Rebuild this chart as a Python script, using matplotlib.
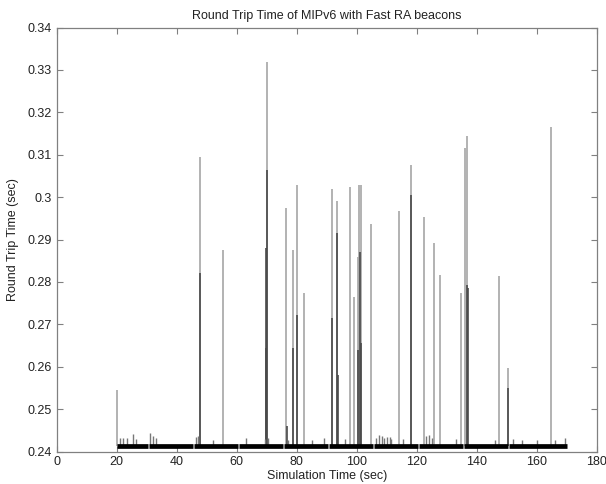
import numpy as np
import matplotlib
matplotlib.use("Agg")
import matplotlib.pyplot as plt

plt.rcParams['font.family'] = ['Liberation Sans', 'DejaVu Sans']

# baseline RTT level and the segments where data was recorded
base_rtt = 0.2412
seg_start = [20.0, 30.8, 45.8, 60.8, 75.8, 90.8, 105.8, 120.8, 135.8, 150.8]
seg_end = [30.3, 45.4, 60.4, 75.4, 90.4, 105.4, 120.4, 135.4, 150.4, 170.0]

# tall RTT spikes (time, peak)
spike_t = [20.0, 47.8, 55.5, 70.0, 76.4, 78.9, 80.1, 82.5, 91.7, 93.5, 97.8,
           99.2, 100.3, 100.9, 101.4, 104.8, 114.1, 118.0, 122.5, 125.7, 127.8,
           134.9, 136.1, 136.9, 147.5, 150.5, 164.7]
spike_rtt = [0.2545, 0.3095, 0.2875, 0.3319, 0.2974, 0.2875, 0.3029, 0.2773,
             0.3020, 0.2992, 0.3025, 0.2765, 0.2859, 0.3029, 0.3029, 0.2937,
             0.2967, 0.3076, 0.2952, 0.2891, 0.2816, 0.2775, 0.3117, 0.3145,
             0.2814, 0.2596, 0.3166]

# darker parts where several spikes overlap (time, peak)
dark_t = [47.8, 69.8, 70.0, 69.6, 76.6, 78.8, 80.0, 91.6, 93.4, 93.6, 100.3,
          101.1, 101.3, 118.0, 136.8, 137.0, 150.5]
dark_rtt = [0.2820, 0.2880, 0.3064, 0.2644, 0.2460, 0.2644, 0.2722, 0.2716,
            0.2916, 0.2580, 0.2640, 0.2871, 0.2655, 0.3005, 0.2793, 0.2785,
            0.2549]

# small bumps on the baseline (time, peak)
bump_t = [21, 22, 23.5, 25.3, 26.5, 31, 32, 33, 46.5, 47, 52, 63, 69.5, 70.5,
          77, 85, 89, 96, 106.5, 107.5, 108.3, 109, 110, 111, 111.5, 115.5,
          123, 124, 125, 133, 146, 152, 155, 160, 166, 169.5]
bump_rtt = [0.2433, 0.2432, 0.2431, 0.2441, 0.2430, 0.2443, 0.2436, 0.2432,
            0.2434, 0.2437, 0.2428, 0.2433, 0.2430, 0.2432, 0.2428, 0.2428,
            0.2431, 0.2429, 0.2432, 0.2438, 0.2436, 0.2432, 0.2434, 0.2435,
            0.2430, 0.2430, 0.2437, 0.2440, 0.2433, 0.2430, 0.2428, 0.2430,
            0.2428, 0.2428, 0.2428, 0.2432]

x_ticks = [0, 20, 40, 60, 80, 100, 120, 140, 160, 180]
y_ticks = [0.24, 0.25, 0.26, 0.27, 0.28, 0.29, 0.30, 0.31, 0.32, 0.33, 0.34]
y_labels = ['0.24', '0.25', '0.26', '0.27', '0.28', '0.29', '0.3', '0.31',
            '0.32', '0.33', '0.34']

fig = plt.figure(figsize=(6.06, 4.84), dpi=100)
ax = fig.add_axes([0.0936, 0.0671, 0.8911, 0.8760])

ax.vlines(spike_t, base_rtt, spike_rtt, color='#a6a6a6', lw=1.2)
ax.vlines(dark_t, base_rtt, dark_rtt, color='#4a4a4a', lw=1.2)
ax.vlines(bump_t, base_rtt, bump_rtt, color='#777777', lw=1.0)
ax.hlines([base_rtt] * len(seg_start), seg_start, seg_end, color='black', lw=3.4)

ax.set_xlim(0, 180)
ax.set_ylim(0.24, 0.34)
ax.set_xticks(x_ticks)
ax.set_yticks(y_ticks)
ax.set_yticklabels(y_labels)
ax.tick_params(direction='in', length=4, width=0.8, color='#808080',
               labelcolor='#222222', labelsize=9, top=True, right=True,
               labeltop=False, labelright=False)
for s in ax.spines.values():
    s.set_color('#808080')
    s.set_linewidth(0.9)

ax.set_title("Round Trip Time of MIPv6 with Fast RA beacons", fontsize=9,
             color='#222222', pad=6)
ax.set_xlabel("Simulation Time (sec)", fontsize=9, color='#222222', labelpad=1)
ax.set_ylabel("Round Trip Time (sec)", fontsize=9, color='#222222', labelpad=6)

fig.savefig("out.png", dpi=100)
